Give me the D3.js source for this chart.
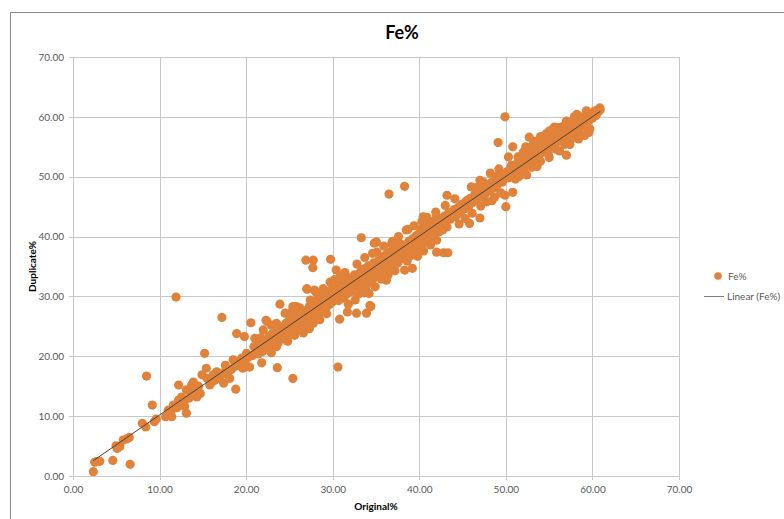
<!DOCTYPE html>
<html>
<head>
<meta charset="utf-8" />
<title>Fe%</title>
<script src="https://cdn.jsdelivr.net/npm/d3@7/dist/d3.min.js"></script>
<style>
  body { margin: 0; background: #fff; }
  svg text { font-family: Lato, "Open Sans", "Liberation Sans", sans-serif; }
  .grid line { stroke: #c8c8c8; stroke-width: 1px; }
  .tick text { fill: #595959; font-size: 10px; }
  .dot { fill: #e0823a; }
  .trend { stroke: #4a4037; stroke-width: 1px; fill: none; }
</style>
</head>
<body>
<div id="chart"></div>
<script>
// original% vs duplicate% pairs
var points = [
  [2.35,0.72],[2.5,2.3],[2.7,2.4],[3.1,2.45],[4.6,2.6],[6.6,1.95],[4.97,5.05],[5.1,4.6],[5.4,4.9],
  [5.8,6.0],[6.2,6.2],[6.5,6.45],[8.0,8.8],[8.4,8.2],[8.5,16.7],[9.16,11.85],[9.4,9.07],[9.6,9.5],
  [10.7,9.9],[11.4,9.9],[11.0,11.0],[11.3,10.6],[11.6,11.85],[12.0,11.4],[12.2,12.7],[12.4,12.2],
  [12.55,13.2],[12.8,12.4],[13.1,10.5],[12.9,11.6],[12.2,15.2],[13.1,14.4],[13.4,13.0],[13.7,15.2],
  [13.9,15.7],[13.6,14.0],[14.3,13.2],[14.1,13.8],[14.7,13.8],[14.5,15.0],[14.9,16.9],[15.2,20.5],
  [15.4,18.0],[15.8,15.2],[15.5,16.3],[16.0,15.6],[16.4,16.0],[16.2,16.9],[16.6,17.4],[16.9,16.4],
  [17.2,26.5],[17.4,15.5],[17.6,18.5],[17.3,17.2],[17.8,17.0],[18.1,16.3],[18.3,17.8],[18.5,19.4],
  [18.8,14.5],[18.7,18.3],[18.9,23.8],[19.0,19.0],[19.3,18.6],[19.5,19.7],[19.8,23.3],[19.6,18.0],
  [19.9,19.3],[20.05,20.5],[20.2,19.8],[20.4,18.2],[20.55,25.6],[20.7,20.1],[21.0,23.0],[21.2,21.0],
  [21.4,20.4],[21.8,18.9],[11.9,29.9],
  [21.97,24.4],[22.4,25.8],[22.9,25.2],[23.5,25.5],[23.9,28.7],[24.5,27.2],[25.4,27.7],[25.8,28.3],
  [27.0,31.3],[27.9,31.05],[23.6,18.1],[25.4,16.3],[23.5,21.6],[25.6,23.5],[26.6,24.4],[27.75,25.5],
  [22.3,26.0],
  [20.9,21.6],[21.1,20.6],[21.5,22.1],[21.6,21.3],[21.9,20.8],[22.0,22.5],[22.2,21.7],[22.4,22.9],
  [22.5,21.2],[22.7,23.4],[22.8,22.3],[23.0,21.9],[23.1,23.8],[23.3,22.8],[23.4,24.3],[23.6,23.1],
  [23.7,22.2],[23.9,24.6],[24.0,23.5],[24.2,24.9],[24.3,22.9],[24.4,24.1],[24.6,25.5],[24.7,23.6],
  [24.9,24.8],[25.0,26.1],[25.1,24.2],[25.3,25.4],[25.4,23.7],[25.6,26.6],[25.7,25.0],[25.9,24.4],
  [26.0,26.3],[26.1,25.6],[26.3,27.2],[26.4,25.1],[26.5,26.7],[26.7,24.8],[26.8,27.6],[26.9,26.2],
  [27.1,27.0],[27.2,25.9],[27.3,28.3],[27.5,27.4],[27.6,26.5],[27.8,28.9],[27.9,27.8],[28.0,26.8],
  [28.2,29.3],[28.3,28.1],[28.4,27.0],[28.6,29.8],[28.7,28.5],[28.8,27.6],[29.0,30.3],[29.1,29.0],
  [29.2,28.0],[29.4,29.6],[29.5,30.8],[29.6,28.6],[29.8,29.9],[29.9,31.2],[30.0,29.1],
  [26.9,36.05],[27.75,36.05],[27.7,34.8],[29.75,36.2],[30.4,34.4],[27.05,31.2],[25.4,28.3],
  [30.8,26.2],[31.7,27.4],[30.6,18.2],
  [25.2,27.3],[26.2,28.1],[27.4,29.4],[28.1,30.6],[28.9,31.3],[29.3,27.1],[28.5,26.1],[26.6,23.9],
  [27.3,24.6],[24.8,22.5],[22.9,20.6],[21.7,23.1],
  [32.75,27.2],[33.9,27.2],[34.4,28.3],[33.1,30.5],[34.5,32.4],[34.8,38.9],[35.1,37.4],[33.3,39.8],
  [36.2,32.7],[39.2,34.7],[38.3,34.4],[36.8,38.8],[37.8,38.8],[35.05,39.1],[34.3,28.5],[34.2,30.5],
  [36.5,47.1],[38.3,48.4],[38.5,41.1],[39.3,39.4],
  [30.1,30.6],[30.3,31.5],[30.4,29.8],[30.5,30.9],[30.7,29.3],[30.8,31.8],[30.9,30.4],[31.1,32.2],
  [31.2,30.9],[31.3,29.7],[31.5,31.6],[31.6,32.8],[31.7,30.5],[31.9,31.9],[32.0,33.1],[32.1,30.8],
  [32.3,32.4],[32.4,31.2],[32.5,33.6],[32.7,32.0],[32.8,30.6],[32.9,33.2],[33.1,32.5],[33.2,34.1],
  [33.4,31.6],[33.5,33.4],[33.6,34.6],[33.8,32.9],[33.9,31.8],[34.0,34.0],[34.1,35.1],[34.3,33.2],
  [34.4,34.5],[34.6,32.8],[34.7,35.6],[34.8,34.1],[35.0,33.4],[35.1,35.2],[35.3,36.0],[35.4,34.6],
  [35.5,33.7],[35.7,35.8],[35.8,36.6],[35.9,34.9],[36.1,35.6],[36.2,37.0],[36.3,34.3],[36.5,36.3],
  [36.6,35.3],[36.7,37.5],[36.9,36.0],[37.0,34.9],[37.1,37.2],[37.3,36.5],[37.4,38.0],[37.5,35.6],
  [37.7,37.0],[37.8,36.2],[37.9,38.3],[38.1,37.4],[38.2,36.3],[38.4,38.6],[38.5,37.8],[38.6,35.9],
  [38.8,39.2],[38.9,38.1],[39.0,36.8],[39.2,39.6],[39.3,38.4],[39.5,37.5],[39.6,40.1],[39.7,39.0],
  [39.9,38.2],[40.0,40.5],
  [29.7,32.4],[30.2,32.8],[30.9,33.5],[31.4,34.0],[31.8,28.7],[32.6,29.4],[33.6,30.6],[34.9,31.6],
  [35.6,32.9],[36.4,33.6],[37.2,34.3],[37.6,40.0],[36.9,39.2],[35.9,38.4],[34.6,37.2],[33.7,36.5],
  [32.8,35.4],[38.7,41.2],[39.4,41.8],[39.8,36.7],
  [40.45,43.3],[40.3,42.5],[42.0,43.3],[41.6,42.5],[42.8,41.4],[43.5,43.3],[42.0,39.4],[42.0,37.4],
  [42.8,37.3],[43.3,37.3],[43.2,46.9],[45.8,42.2],[47.0,43.1],[46.6,48.2],[47.4,49.1],[48.9,50.0],
  [48.7,46.6],[45.6,46.1],[50.0,45.0],[49.1,55.7],
  [40.1,39.4],[40.2,41.2],[40.4,40.1],[40.6,39.0],[40.7,41.5],[40.8,40.6],[41.0,39.8],[41.1,41.9],
  [41.2,40.9],[41.4,40.0],[41.5,42.3],[41.7,41.2],[41.8,40.4],[42.0,42.6],[42.1,41.6],[42.3,40.8],
  [42.4,42.9],[42.6,42.0],[42.7,41.1],[42.9,43.4],[43.0,42.4],[43.2,41.6],[43.4,44.0],[43.6,42.9],
  [43.8,43.6],[44.0,44.5],[44.2,43.3],[44.5,44.9],[44.7,43.9],[44.9,45.4],[45.2,44.6],[45.4,45.9],
  [45.7,45.0],[45.9,46.4],[46.2,45.7],[46.4,47.0],[46.7,46.2],[46.9,47.4],[47.2,46.6],[47.4,47.9],
  [47.6,47.1],[47.9,48.4],[48.1,47.6],[48.3,49.0],[48.6,48.1],[48.8,49.5],[49.0,48.6],[49.3,49.9],
  [49.5,49.7],[49.6,49.1],[49.9,50.4],[49.9,46.9],[50.1,50.8],[50.8,47.4],
  [40.5,37.6],[41.3,38.6],[40.9,43.2],[41.9,44.1],[43.0,45.2],[44.1,46.3],[44.6,42.1],[45.3,43.0],
  [46.1,43.9],[47.1,45.1],[47.8,45.8],[46.0,48.3],[47.0,49.4],[48.2,50.6],[49.2,51.3],[48.4,46.0],
  [49.4,47.3],
  [49.9,60.0],[52.7,56.6],[50.8,55.0],[50.3,53.3],[51.4,53.3],[55.5,58.1],[60.85,61.5],[60.5,61.1],
  [59.9,60.55],[58.7,60.0],[57.8,59.4],[57.0,53.6],[59.1,56.9],[59.7,58.0],[56.2,56.4],[54.3,55.8],
  [53.1,55.3],[52.0,54.1],[51.6,53.3],[50.65,51.9],[58.5,57.5],[58.0,56.6],[56.1,58.2],
  [50.3,49.8],[50.5,51.2],[50.6,50.3],[50.9,51.6],[51.0,50.6],[51.2,52.1],[51.3,51.0],[51.5,52.5],
  [51.7,51.4],[51.8,52.9],[52.0,51.8],[52.2,53.2],[52.3,52.1],[52.5,53.6],[52.6,52.4],[52.8,53.9],
  [53.0,52.8],[53.1,54.3],[53.3,53.1],[53.5,54.6],[53.6,53.5],[53.8,55.0],[54.0,53.9],[54.2,55.3],
  [54.3,54.2],[54.5,55.6],[54.7,54.5],[54.8,56.0],[55.0,54.9],[55.2,56.3],[55.4,55.2],[55.5,56.7],
  [55.7,55.6],[55.9,57.0],[56.0,55.9],[56.2,57.3],[56.4,56.3],[56.6,57.7],[56.7,56.6],[56.9,58.0],
  [57.1,57.0],[57.3,58.3],[57.4,57.2],[57.6,58.7],[57.8,57.6],[58.0,58.9],[58.2,58.0],[58.3,59.3],
  [58.5,58.4],[58.7,59.6],[58.9,58.7],[59.1,59.9],[59.3,59.1],[59.5,60.2],[59.6,59.4],[59.8,60.6],
  [60.0,59.8],[60.2,60.9],[60.4,60.2],[60.6,60.7],[60.9,61.2],[59.4,58.2],[58.6,57.0],[57.5,56.2],
  [56.8,55.4],[55.8,54.6],[54.9,53.8],[54.0,52.6],[53.0,51.6],[52.1,50.9],[51.1,49.6],[55.3,57.8],
  [56.6,58.4],[53.4,55.9],[54.6,57.1],[57.9,60.0],[55.6,58.3],
  [51.5,50.0],[52.4,50.3],[53.6,51.7],[55.0,53.2],[56.2,54.3],[57.4,55.4],[58.4,56.3],[59.6,57.4],
  [52.3,55.0],[54.0,56.7],[55.0,57.6],[57.0,59.3],[58.2,60.4],[59.3,61.0]
];
var xTicks = [0, 10, 20, 30, 40, 50, 60, 70];
var yTicks = [0, 10, 20, 30, 40, 50, 60, 70];
var seriesName = "Fe%";
var trendName = "Linear (Fe%)";

var width = 784, height = 519;
var plot = {left: 73, right: 679, top: 57, bottom: 476};

var svg = d3.select("#chart").append("svg")
    .attr("width", width)
    .attr("height", height);

// chart frame
svg.append("rect")
    .attr("x", 10.5).attr("y", 12.5)
    .attr("width", width + 20).attr("height", height + 20)
    .attr("fill", "none").attr("stroke", "#8c8c8c");

var x = d3.scaleLinear().domain([0, 70]).range([plot.left, plot.right]);
var y = d3.scaleLinear().domain([0, 70]).range([plot.bottom, plot.top]);

// gridlines
svg.append("g").attr("class", "grid")
    .selectAll("line").data(xTicks).enter().append("line")
    .attr("x1", function(d){ return Math.round(x(d)) + 0.5; })
    .attr("x2", function(d){ return Math.round(x(d)) + 0.5; })
    .attr("y1", plot.top).attr("y2", plot.bottom + 4);
svg.append("g").attr("class", "grid")
    .selectAll("line").data(yTicks).enter().append("line")
    .attr("y1", function(d){ return Math.round(y(d)) + 0.5; })
    .attr("y2", function(d){ return Math.round(y(d)) + 0.5; })
    .attr("x1", plot.left - 4).attr("x2", plot.right);

// axes (labels only, lines are the grid)
var fmt = d3.format(".2f");
var xAxis = svg.append("g")
    .attr("transform", "translate(0," + (plot.bottom + 5) + ")")
    .call(d3.axisBottom(x).tickValues(xTicks).tickFormat(fmt).tickSize(0).tickPadding(5));
var yAxis = svg.append("g")
    .attr("transform", "translate(" + (plot.left - 5) + ",0)")
    .call(d3.axisLeft(y).tickValues(yTicks).tickFormat(fmt).tickSize(0).tickPadding(4));
xAxis.select(".domain").remove();
yAxis.select(".domain").remove();

// points
svg.append("g").selectAll("circle")
    .data(points).enter().append("circle")
    .attr("class", "dot")
    .attr("cx", function(d){ return x(d[0]); })
    .attr("cy", function(d){ return y(d[1]); })
    .attr("r", 4.6);

// linear trendline (least squares)
var mx = d3.mean(points, function(d){ return d[0]; });
var my = d3.mean(points, function(d){ return d[1]; });
var sxy = d3.sum(points, function(d){ return (d[0] - mx) * (d[1] - my); });
var sxx = d3.sum(points, function(d){ return (d[0] - mx) * (d[0] - mx); });
var slope = sxy / sxx, icpt = my - slope * mx;
var xr = d3.extent(points, function(d){ return d[0]; });
svg.append("line").attr("class", "trend")
    .attr("x1", x(xr[0])).attr("y1", y(slope * xr[0] + icpt))
    .attr("x2", x(xr[1])).attr("y2", y(slope * xr[1] + icpt));

// title and axis titles
svg.append("text")
    .attr("x", 402).attr("y", 39)
    .attr("text-anchor", "middle")
    .style("font-size", "18px").style("font-weight", "bold").attr("fill", "#000")
    .text("Fe%");
svg.append("text")
    .attr("x", (plot.left + plot.right) / 2).attr("y", 510)
    .attr("text-anchor", "middle")
    .style("font-size", "10px").style("font-weight", "bold")
    .text("Original%");
svg.append("text")
    .attr("transform", "translate(36," + ((plot.top + plot.bottom) / 2) + ") rotate(-90)")
    .attr("text-anchor", "middle")
    .style("font-size", "10px").style("font-weight", "bold")
    .text("Duplicate%");

// legend
var lg = svg.append("g");
lg.append("circle").attr("class", "dot").attr("cx", 718).attr("cy", 276).attr("r", 3.8);
lg.append("text").attr("x", 728).attr("y", 280).style("font-size", "10px").attr("fill", "#595959").text(seriesName);
lg.append("line").attr("x1", 704).attr("x2", 724).attr("y1", 296.5).attr("y2", 296.5)
    .attr("stroke", "#7f7f7f").attr("stroke-width", 1);
lg.append("text").attr("x", 727).attr("y", 300).style("font-size", "10px").attr("fill", "#595959").text(trendName);
</script>
</body>
</html>
